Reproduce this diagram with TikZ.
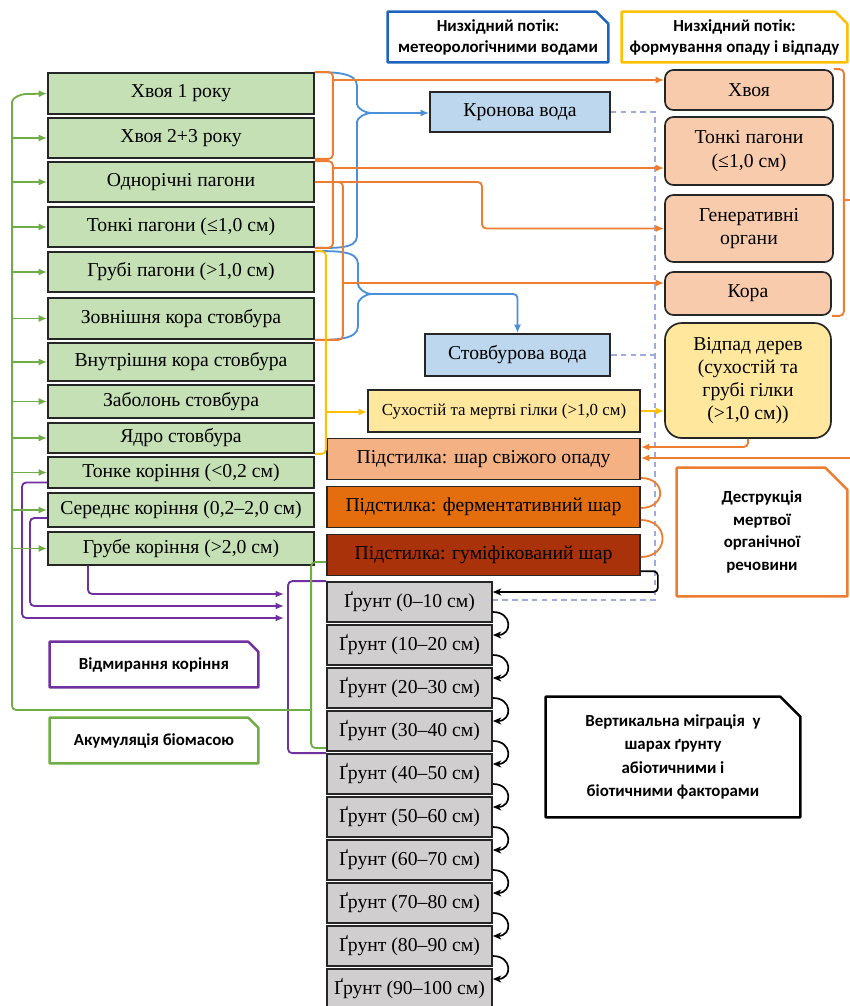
\documentclass[tikz,border=0pt]{standalone}
\usepackage{fontspec}
\setmainfont{Liberation Serif}
\newfontfamily\legendfont{Carlito}
\usetikzlibrary{arrows.meta, positioning, calc}

% colours of boxes and flows
\definecolor{treegreen}{RGB}{197,224,180}
\definecolor{peach}{RGB}{248,203,173}
\definecolor{paleyellow}{RGB}{255,232,158}
\definecolor{paleblue}{RGB}{189,215,238}
\definecolor{freshlit}{RGB}{244,177,131}
\definecolor{fermlit}{RGB}{228,110,14}
\definecolor{humlit}{RGB}{170,50,10}
\definecolor{soilgray}{RGB}{208,206,206}
\definecolor{lineorange}{RGB}{237,125,49}
\definecolor{lineblue}{RGB}{74,144,217}
\definecolor{legendblue}{RGB}{30,100,190}
\definecolor{lineyellow}{RGB}{255,192,0}
\definecolor{linegreen}{RGB}{112,173,71}
\definecolor{linepurple}{RGB}{112,48,160}
\definecolor{dashblue}{RGB}{160,170,222}

% frame with a cut top right corner round a legend node
\newcommand{\snipframe}[3]{%
  \draw[line width=1.8pt, draw=#2, line join=round]
    (#1.south west) -- (#1.north west) -- ($(#1.north east)+(-#3,0)$)
    -- ($(#1.north east)+(0,-#3)$) -- (#1.south east) -- cycle;}

\begin{document}
\begin{tikzpicture}[x=0.025cm, y=0.025cm,
    box/.style={draw=black!85, line width=1.2pt, inner sep=1pt, align=center,
      font=\fontsize{14}{16.5}\selectfont},
    treebox/.style={box, fill=treegreen, minimum width=6.65cm},
    fallbox/.style={box, fill=peach, rounded corners=6pt, minimum width=4.2cm},
    waterbox/.style={box, fill=paleblue},
    litterbox/.style={box, minimum width=7.825cm, minimum height=1.02cm},
    soilbox/.style={box, fill=soilgray, minimum width=4.125cm, minimum height=1cm},
    legendbox/.style={inner sep=0pt, align=center,
      font=\legendfont\bfseries\fontsize{12}{15}\selectfont},
    link/.style={line width=1.3pt, rounded corners=3pt},
    arrowtip/.style={-{Latex[length=6pt,width=5pt]}},
    oline/.style={link, draw=lineorange},
    oarrow/.style={oline, arrowtip},
    bline/.style={link, draw=lineblue},
    barrow/.style={bline, arrowtip},
    yline/.style={link, draw=lineyellow},
    yarrow/.style={yline, arrowtip},
    garrow/.style={link, draw=linegreen, arrowtip},
    gline/.style={link, draw=linegreen},
    pline/.style={link, draw=linepurple},
    parrow/.style={pline, arrowtip},
    karrow/.style={link, draw=black, line width=1.2pt, -{Stealth[length=6pt,width=5pt]}},
    dline/.style={draw=dashblue, line width=1pt, dash pattern=on 4pt off 3pt}
  ]
\useasboundingbox (0,0) rectangle (849,-1006);

% legends
\node[legendbox, minimum width=5.5cm, minimum height=1.25cm] (legwater) at (498,-37)
  {Низхідний потік:\\метеорологічними водами};
\snipframe{legwater}{legendblue}{12}
\node[legendbox, minimum width=5.625cm, minimum height=1.25cm] (leglitter) at (734.5,-37)
  {Низхідний потік:\\формування опаду і відпаду};
\snipframe{leglitter}{lineyellow}{12}
\node[legendbox, minimum width=4.25cm, minimum height=3.2cm,
  font=\legendfont\bfseries\fontsize{12}{16}\selectfont] (legdestr) at (762,-532)
  {Деструкція\\мертвої\\органічної\\речовини};
\snipframe{legdestr}{lineorange}{22}
\node[legendbox, minimum width=6.35cm, minimum height=3cm,
  font=\legendfont\bfseries\fontsize{12}{16.5}\selectfont] (legmigr) at (673,-757)
  {Вертикальна міграція~ у\\шарах ґрунту\\абіотичними і\\біотичними факторами};
\snipframe{legmigr}{black}{20}
\node[legendbox, minimum width=5.2cm, minimum height=1.125cm] (legroot) at (154,-664.5)
  {Відмирання коріння};
\snipframe{legroot}{linepurple}{10}
\node[legendbox, minimum width=5.2cm, minimum height=1.125cm] (legaccum) at (154,-740.5)
  {Акумуляція біомасою};
\snipframe{legaccum}{linegreen}{10}

% tree compartments
\node[treebox, minimum height=1.025cm] (needle1) at (181,-93.5) {Хвоя 1 року};
\node[treebox, minimum height=1cm] (needle23) at (181,-138) {Хвоя 2+3 року};
\node[treebox, minimum height=1cm] (shoots) at (181,-182) {Однорічні пагони};
\node[treebox, minimum height=1cm] (thinsh) at (181,-227) {Тонкі пагони (≤1,0 см)};
\node[treebox, minimum height=1cm] (coarsesh) at (181,-272) {Грубі пагони (>1,0 см)};
\node[treebox, minimum height=1.025cm] (outbark) at (181,-318.5) {Зовнішня кора стовбура};
\node[treebox, minimum height=0.95cm] (inbark) at (181,-362) {Внутрішня кора стовбура};
\node[treebox, minimum height=0.825cm] (sapwood) at (181,-401.5) {Заболонь стовбура};
\node[treebox, minimum height=0.75cm] (heart) at (181,-438) {Ядро стовбура};
\node[treebox, minimum height=0.775cm] (fineroot) at (181,-472.5) {Тонке коріння (<0,2 см)};
\node[treebox, minimum height=0.85cm] (medroot) at (181,-510) {Середнє коріння (0,2–2,0 см)};
\node[treebox, minimum height=0.825cm] (coarseroot) at (181,-548.5) {Грубе коріння (>2,0 см)};

% litterfall fractions
\node[fallbox, minimum height=1cm] (litneedle) at (749,-90) {Хвоя};
\node[fallbox, minimum height=1.7cm] (litthin) at (749,-151) {Тонкі пагони\\(≤1,0 см)};
\node[fallbox, minimum height=1.675cm] (litgen) at (749,-228.5) {Генеративні\\органи};
\node[fallbox, minimum width=4.15cm, minimum height=1.075cm] (litbark) at (748,-293.5) {Кора};
\node[fallbox, fill=paleyellow, rounded corners=12pt, minimum width=4.15cm, minimum height=2.875cm]
  (treefall) at (748,-380.5) {Відпад дерев\\(сухостій та\\грубі гілки\\(>1,0 см))};

% water and litter layers
\node[waterbox, minimum width=4.5cm, minimum height=1cm] (crownw) at (520,-112) {Кронова вода};
\node[waterbox, minimum width=4.625cm, minimum height=1.05cm] (stemw) at (517.5,-355) {Стовбурова вода};
\node[box, fill=paleyellow, minimum width=6.8cm, minimum height=1.05cm,
  font=\fontsize{12}{14}\selectfont] (snag) at (504,-411) {Сухостій та мертві гілки (>1,0 см)};
\node[litterbox, fill=freshlit] (fresh) at (483.5,-459) {Підстилка: шар свіжого опаду};
\node[litterbox, fill=fermlit] (ferm) at (483.5,-507) {Підстилка: ферментативний шар};
\node[litterbox, fill=humlit] (humus) at (483.5,-555) {Підстилка: гуміфікований шар};

% soil layers
\foreach \i/\depth in {0/0–10, 1/10–20, 2/20–30, 3/30–40, 4/40–50,
                       5/50–60, 6/60–70, 7/70–80, 8/80–90, 9/90–100}
  \node[soilbox] (soil\i) at (409.5,{-602-43*\i}) {Ґрунт (\depth~см)};

\foreach \i [count=\j from 1] in {0,...,8}
  \draw[karrow] ($(soil\i.east)+(0,-10)$) to[out=0,in=0,looseness=2.2] ($(soil\j.east)+(0,10)$);

% water flows
\coordinate (dcol) at (655,-600);
\draw[dline] (crownw.east) -| (dcol) -- (dcol -| soil0.east);
\draw[dline] (stemw.east) -- (stemw.east -| dcol);

\coordinate (btip1) at (372,-113);
\draw[bline] (needle1.north east) to[out=0,in=90] (357,-90) -- (357,-100) to[out=-90,in=180] (btip1);
\draw[bline] (btip1) to[out=180,in=90] (357,-126) -- (357,-232) to[out=-90,in=0] (thinsh.south east);
\draw[barrow] (btip1) -- (btip1 -| crownw.west);

\coordinate (btip2) at (372,-294);
\draw[bline] (coarsesh.north east) to[out=0,in=90] (358,-268) -- (358,-280) to[out=-90,in=180] (btip2);
\draw[bline] (btip2) to[out=180,in=90] (358,-308) -- (358,-322) to[out=-90,in=0] (outbark.south east);
\draw[barrow] (btip2) -| (stemw.north);

% litterfall flows
\draw[oline] (needle1.north east) -- ++(18,0) |- (needle23.south east);
\coordinate (ob1) at (332,-80);
\draw[oarrow] (ob1) -- (ob1 -| litneedle.west);

\draw[oline] (shoots.north east) -- ++(18,0) |- (thinsh.south east);
\coordinate (ob2) at (332,-168);
\draw[oarrow] (ob2) -- (ob2 -| litthin.west);

\draw[oarrow] (shoots.east) -- (482,-182) |- (litgen.west);

\draw[oline] (shoots.east) -- ++(28,0) |- (outbark.south east);
\coordinate (ob3) at (342,-283);
\draw[oarrow] (ob3) -- (ob3 -| litbark.west);

\draw[oline] (litneedle.north east) -- ++(10,0) |- (litbark.south east);
\coordinate (ob4) at (843,-200);
\coordinate (oedge) at (864,-458);
\draw[oarrow] (ob4) -| (oedge) -- (oedge -| fresh.east);

\draw[oarrow] (treefall.south) |- ($(fresh.east)+(0,12)$);

\draw[oline] ($(fresh.east)+(0,-19)$) to[out=0,in=0,looseness=2.2] ($(ferm.east)+(0,-1)$);
\draw[oline] ($(ferm.east)+(0,-13)$) to[out=0,in=0,looseness=2] ($(humus.east)+(0,-2)$);

\draw[karrow] ($(humus.south east)+(0,5)$) -- ++(17,0) |- ($(soil0.east)+(0,10)$);

% dead wood
\draw[yline] (coarsesh.north east) -- ++(11,0) |- (heart.south east);
\coordinate (ytap) at (325,-412);
\draw[yarrow] (ytap) -- (ytap -| snag.west);
\draw[yarrow] (snag.east) -- (snag.east -| treefall.west);

% root mortality
\coordinate (pin1) at (284,-594);
\coordinate (pin2) at (284,-606);
\coordinate (pin3) at (284,-618);
\draw[parrow] ($(fineroot.west)+(0,-10)$) -| (22,-618) -- (pin3);
\draw[parrow] ($(medroot.west)+(0,-8)$) -| (30,-606) -- (pin2);
\draw[parrow] (coarseroot.south -| 88,0) |- (pin1);
\draw[pline] (soil0.north west) -| (288,-700) |- (soil4.north west);

% biomass accumulation
\draw[gline] ($(humus.west)+(0,-7)$) -- ++(-15,0) |- ($(soil3.west)+(0,-17)$);
\coordinate (gjoin) at (312,-710);
\coordinate (gcol) at (12,-710);
\draw[garrow] (gjoin) -- (gcol) -- (12,-106) to[out=90,in=180] (30,-94) -- (needle1.west);
\foreach \nm in {needle23, shoots, thinsh, coarsesh, outbark, inbark,
                 sapwood, heart, fineroot, medroot, coarseroot}
  \draw[garrow] (\nm.west -| gcol) -- (\nm.west);
\end{tikzpicture}
\end{document}
